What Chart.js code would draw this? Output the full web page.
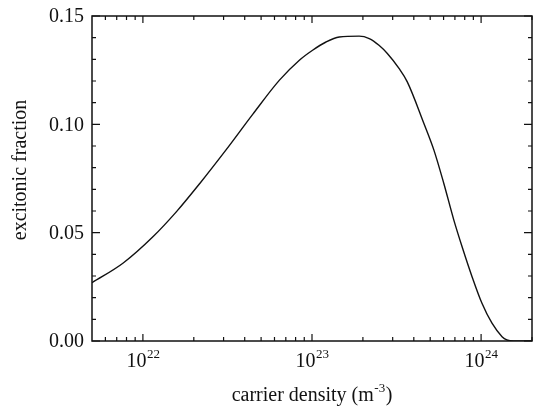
<!DOCTYPE html>
<html>
<head>
<meta charset="utf-8">
<script src="https://cdn.jsdelivr.net/npm/chart.js@4"></script>
<style>
  html, body { margin: 0; padding: 0; background: #fff; }
  #wrap { width: 534px; height: 409px; position: relative; }
</style>
</head>
<body>
<div id="wrap"><canvas id="c"></canvas></div>
<script>
// carrier density (m^-3) and excitonic fraction
const density = [5.0e21, 7.65e21, 1.15e22, 1.58e22, 2.17e22, 3.11e22, 4.47e22, 6.42e22, 8.42e22,
  1.008e23, 1.21e23, 1.45e23, 1.90e23, 2.18e23, 2.49e23, 2.79e23, 3.27e23, 3.66e23, 4.59e23,
  5.26e23, 6.02e23, 6.90e23, 7.72e23, 8.84e23, 1.012e24, 1.16e24, 1.33e24, 1.42e24, 1.56e24, 2.0e24];
const fraction = [0.0269, 0.0360, 0.0482, 0.0597, 0.0727, 0.0883, 0.1047, 0.1204, 0.1296,
  0.1342, 0.1380, 0.1403, 0.1407, 0.1396, 0.1365, 0.1327, 0.1258, 0.1196, 0.1004,
  0.0881, 0.0727, 0.0558, 0.0435, 0.0297, 0.0174, 0.0082, 0.0020, 0.0005, 0.0, 0.0];

const xMajor = [1e22, 1e23, 1e24];
const xMajorExp = ['22', '23', '24'];
const xMinor = [6e21, 7e21, 8e21, 9e21,
  2e22, 3e22, 4e22, 5e22, 6e22, 7e22, 8e22, 9e22,
  2e23, 3e23, 4e23, 5e23, 6e23, 7e23, 8e23, 9e23, 2e24];
const yMajor = [0, 0.05, 0.10, 0.15];
const yLabels = ['0.00', '0.05', '0.10', '0.15'];
const yMinor = [0.01, 0.02, 0.03, 0.04, 0.06, 0.07, 0.08, 0.09, 0.11, 0.12, 0.13, 0.14];

const FONT = '"Liberation Serif", "Times New Roman", serif';

// draws "base" with a raised small "sup", centred on x
function drawSup(ctx, base, sup, x, y, align) {
  ctx.font = '20px ' + FONT;
  const wb = ctx.measureText(base).width;
  ctx.font = '13px ' + FONT;
  const ws = ctx.measureText(sup).width;
  let x0 = align === 'center' ? x - (wb + ws) / 2 : x;
  ctx.textAlign = 'left';
  ctx.textBaseline = 'alphabetic';
  ctx.font = '20px ' + FONT;
  ctx.fillText(base, x0, y);
  ctx.font = '13px ' + FONT;
  ctx.fillText(sup, x0 + wb + 0.5, y - 9);
  return x0 + wb + ws;
}

const frame = {
  id: 'frame',
  afterDraw(chart) {
    const ctx = chart.ctx;
    const a = chart.chartArea;
    const xs = chart.scales.x, ys = chart.scales.y;
    ctx.save();
    ctx.strokeStyle = '#111';
    ctx.fillStyle = '#111';
    ctx.lineWidth = 1.5;
    ctx.strokeRect(a.left, a.top, a.right - a.left, a.bottom - a.top);

    ctx.lineWidth = 1.2;
    ctx.beginPath();
    xMajor.forEach(v => {
      const p = xs.getPixelForValue(v);
      ctx.moveTo(p, a.bottom); ctx.lineTo(p, a.bottom - 7);
      ctx.moveTo(p, a.top); ctx.lineTo(p, a.top + 7);
    });
    xMinor.forEach(v => {
      const p = xs.getPixelForValue(v);
      ctx.moveTo(p, a.bottom); ctx.lineTo(p, a.bottom - 4);
      ctx.moveTo(p, a.top); ctx.lineTo(p, a.top + 4);
    });
    yMajor.forEach(v => {
      const p = ys.getPixelForValue(v);
      ctx.moveTo(a.left, p); ctx.lineTo(a.left + 8, p);
      ctx.moveTo(a.right, p); ctx.lineTo(a.right - 8, p);
    });
    yMinor.forEach(v => {
      const p = ys.getPixelForValue(v);
      ctx.moveTo(a.left, p); ctx.lineTo(a.left + 4, p);
      ctx.moveTo(a.right, p); ctx.lineTo(a.right - 4, p);
    });
    ctx.stroke();

    // y tick labels
    ctx.font = '20px ' + FONT;
    ctx.textAlign = 'right';
    ctx.textBaseline = 'middle';
    yMajor.forEach((v, i) => {
      ctx.fillText(yLabels[i], a.left - 8, ys.getPixelForValue(v) + 1);
    });

    // x tick labels
    xMajor.forEach((v, i) => {
      drawSup(ctx, '10', xMajorExp[i], xs.getPixelForValue(v), 367, 'center');
    });

    // x title
    ctx.font = '20px ' + FONT;
    const t1 = 'carrier density (m', t3 = ')';
    const w1 = ctx.measureText(t1).width, w3 = ctx.measureText(t3).width;
    ctx.font = '13px ' + FONT;
    const w2 = ctx.measureText('-3').width;
    let x0 = (a.left + a.right) / 2 - (w1 + w2 + w3 + 1) / 2;
    const end = drawSup(ctx, t1, '-3', x0, 401, 'left');
    ctx.font = '20px ' + FONT;
    ctx.fillText(t3, end + 1, 401);

    // y title
    ctx.translate(26, 170);
    ctx.rotate(-Math.PI / 2);
    ctx.textAlign = 'center';
    ctx.textBaseline = 'alphabetic';
    ctx.fillText('excitonic fraction', 0, 0);
    ctx.restore();
  }
};

new Chart(document.getElementById('c'), {
  type: 'line',
  data: {
    datasets: [{
      data: density.map((d, i) => ({ x: d, y: fraction[i] })),
      borderColor: '#111',
      borderWidth: 1.4,
      pointRadius: 0,
      cubicInterpolationMode: 'monotone',
      fill: false
    }]
  },
  options: {
    responsive: true,
    maintainAspectRatio: false,
    animation: false,
    layout: { padding: { left: 92, top: 16, right: 2, bottom: 68 } },
    plugins: { legend: { display: false }, tooltip: { enabled: false } },
    scales: {
      x: { type: 'logarithmic', min: 5e21, max: 2e24, display: false },
      y: { type: 'linear', min: 0, max: 0.15, display: false }
    }
  },
  plugins: [frame]
});
</script>
</body>
</html>
